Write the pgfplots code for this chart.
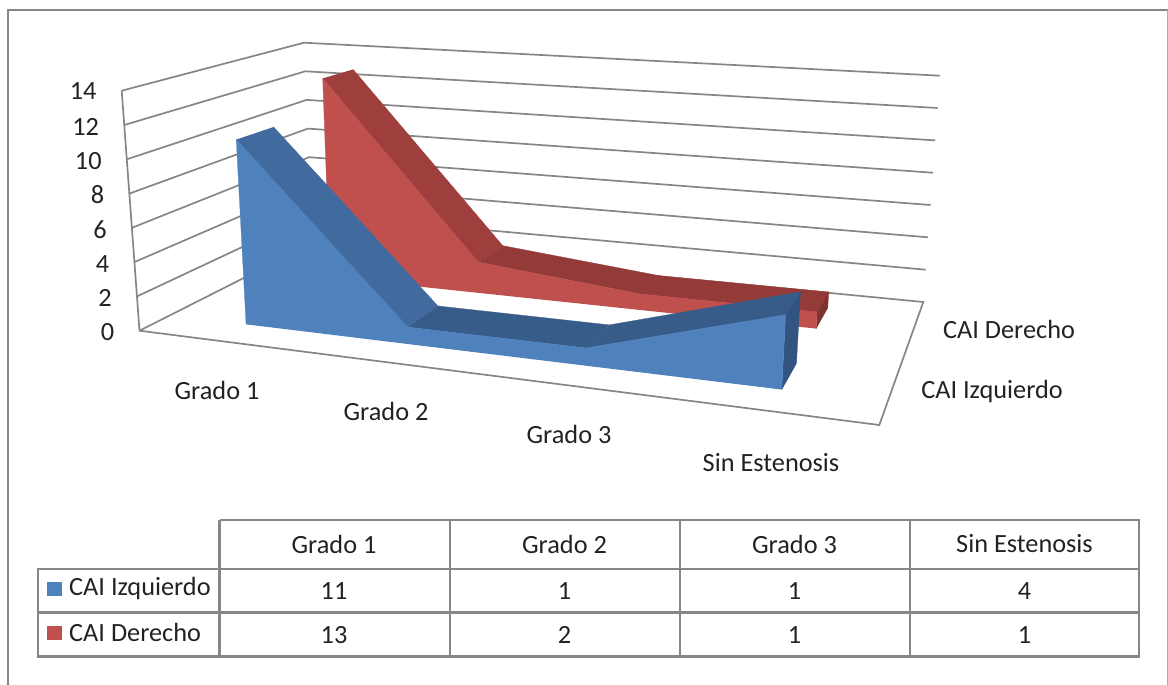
\documentclass[border=0pt]{standalone}
\usepackage{fontspec}
\setmainfont{Carlito}
\usepackage{pgfplots}
\pgfplotsset{compat=1.18}

% Palette of the two series and of the chart furniture
\definecolor{blueFront}{HTML}{4F81BD}
\definecolor{blueTopA}{HTML}{416B9E}
\definecolor{blueTopB}{HTML}{385C8A}
\definecolor{blueSide}{HTML}{325480}
\definecolor{redFront}{HTML}{C0504D}
\definecolor{redTopA}{HTML}{9E3F3D}
\definecolor{redTopB}{HTML}{943B39}
\definecolor{redSide}{HTML}{7F3230}
\definecolor{rule}{HTML}{868686}
\definecolor{ink}{HTML}{222222}

\tikzset{lab/.style={font=\fontsize{26.3}{28}\selectfont,text=ink,inner sep=0pt}}

% Perspective projection of (category, depth, value) to canvas coordinates
\newcommand\den[3]{(1-.17902*((#1)+.5)/4+.2251*(#2)-.045*(#3)/14)}
\newcommand\prx[3]{((582.39*((#1)+.5)/4+243.96*(#2)+139.5-23.3*(#3)/14)/\den{#1}{#2}{#3})}
\newcommand\pry[3]{((18.22*((#1)+.5)/4-33*(#2)+330.7-244.1*(#3)/14)/\den{#1}{#2}{#3})}
\pgfplotsset{/pgfplots/table/proj/.style={x expr={\prx{\thisrow{c}}{\thisrow{d}}{\thisrow{v}}},
                          y expr={\pry{\thisrow{c}}{\thisrow{d}}{\thisrow{v}}},row sep=\\}}

% Top band between two neighbouring categories of one series
\newcommand\band[7]{\addplot[fill=#7,draw=#7,line width=.3pt] table[proj]
  {c d v\\ #1 #5 #2\\ #3 #5 #4\\ #3 #6 #4\\ #1 #6 #2\\};}

\begin{document}
\begin{tikzpicture}
\useasboundingbox (0,0) rectangle (1168pt,685pt);
\begin{axis}[scale only axis,width=1168pt,height=685pt,
  xmin=0,xmax=1168,ymin=0,ymax=685,y dir=reverse,hide axis,clip=true,
  unbounded coords=jump,
  every axis plot/.append style={mark=none}]

% Chart frame
\addplot[color=rule,line width=2.4pt] table[row sep=\\]{x y\\ 8 685\\ 8 10\\ 1168 10\\};
\addplot[color=rule!70,line width=1pt] table[row sep=\\]{x y\\ 1167 10\\ 1167 685\\};

% Gridlines on the two walls
\addplot[color=rule,line width=1.7pt] table[row sep=\\]{x y\\
121.7 90.7\\ 304 42.7\\ 940 75.7\\ nan nan\\
124.2 125\\ 305.3 71.3\\ 937.6 108\\ nan nan\\
126.8 159.3\\ 306.6 99.9\\ 935.2 140.4\\ nan nan\\
129.3 193.6\\ 307.9 128.6\\ 932.8 172.7\\ nan nan\\
131.9 227.8\\ 309.1 157.2\\ 930.5 205\\ nan nan\\
134.4 262.1\\ 310.4 185.8\\ 928.1 237.3\\ nan nan\\
137 296.4\\ 311.7 214.4\\ 925.7 269.7\\ nan nan\\
121.7 90.7\\ 139.5 330.7\\ 879.3 425\\ 923.3 302\\ 313 243\\ 139.5 330.7\\};

% CAI Derecho, the rear series
\addplot[fill=redSide,draw=redSide,line width=.3pt] table[proj]
  {c d v\\ 3 .65 0\\ 3 .85 0\\ 3 .85 1\\ 3 .65 1\\};
\band{0}{13}{1}{2}{.65}{.85}{redTopA}
\band{1}{2}{2}{1}{.65}{.85}{redTopB}
\band{2}{1}{3}{1}{.65}{.85}{redTopB}
\addplot[fill=redFront,draw=redFront,line width=.3pt] table[proj]
  {c d v\\ 0 .65 0\\ 0 .65 13\\ 1 .65 2\\ 2 .65 1\\ 3 .65 1\\ 3 .65 0\\};

% CAI Izquierdo, the front series
\addplot[fill=blueSide,draw=blueSide,line width=.3pt] table[proj]
  {c d v\\ 3 .15 0\\ 3 .35 0\\ 3 .35 4\\ 3 .15 4\\};
\band{0}{11}{1}{1}{.15}{.35}{blueTopA}
\band{1}{1}{2}{1}{.15}{.35}{blueTopB}
\band{2}{1}{3}{4}{.15}{.35}{blueTopB}
\addplot[fill=blueFront,draw=blueFront,line width=.3pt] table[proj]
  {c d v\\ 0 .15 0\\ 0 .15 11\\ 1 .15 1\\ 2 .15 1\\ 3 .15 4\\ 3 .15 0\\};

% Value axis labels
\node[lab,anchor=east] at (axis cs:96.7,91.5){14};
\node[lab,anchor=east] at (axis cs:99.2,126.5){12};
\node[lab,anchor=east] at (axis cs:101.8,160.8){10};
\node[lab,anchor=east] at (axis cs:104.3,195.1){8};
\node[lab,anchor=east] at (axis cs:106.9,229.5){6};
\node[lab,anchor=east] at (axis cs:109.4,264){4};
\node[lab,anchor=east] at (axis cs:112,298){2};
\node[lab,anchor=east] at (axis cs:114.5,332.5){0};

% Category and series labels
\node[lab] at (axis cs:217,390){Grado 1};
\node[lab] at (axis cs:386,411){Grado 2};
\node[lab] at (axis cs:569,434){Grado 3};
\node[lab] at (axis cs:771,463){Sin Estenosis};
\node[lab] at (axis cs:1009,329){CAI Derecho};
\node[lab] at (axis cs:992,391){CAI Izquierdo};

% Data table under the chart
\addplot[color=rule,line width=2.4pt] table[row sep=\\]{x y\\
219.5 520\\ 1139 520\\ 1139 656.5\\ 38 656.5\\ 38 569\\ 1139 569\\ nan nan\\
38 612.5\\ 1139 612.5\\ nan nan\\
219.5 520\\ 219.5 656.5\\ nan nan\\
450 520\\ 450 656.5\\ nan nan\\
680 520\\ 680 656.5\\ nan nan\\
910 520\\ 910 656.5\\};

\node[lab] at (axis cs:334,544){Grado 1};
\node[lab] at (axis cs:564.5,544){Grado 2};
\node[lab] at (axis cs:794.5,544){Grado 3};
\node[lab] at (axis cs:1024.5,544){Sin Estenosis};

\addplot[fill=blueFront,draw=none] table[row sep=\\]{x y\\ 47 582\\ 62 582\\ 62 596\\ 47 596\\};
\addplot[fill=redFront,draw=none] table[row sep=\\]{x y\\ 47 626\\ 62 626\\ 62 640\\ 47 640\\};
\node[lab,anchor=west] at (axis cs:69,588){CAI Izquierdo};
\node[lab,anchor=west] at (axis cs:69,632){CAI Derecho};

\node[lab] at (axis cs:334,591){11};
\node[lab] at (axis cs:564.5,591){1};
\node[lab] at (axis cs:794.5,591){1};
\node[lab] at (axis cs:1024.5,591){4};
\node[lab] at (axis cs:334,635){13};
\node[lab] at (axis cs:564.5,635){2};
\node[lab] at (axis cs:794.5,635){1};
\node[lab] at (axis cs:1024.5,635){1};
\end{axis}
\end{tikzpicture}
\end{document}
